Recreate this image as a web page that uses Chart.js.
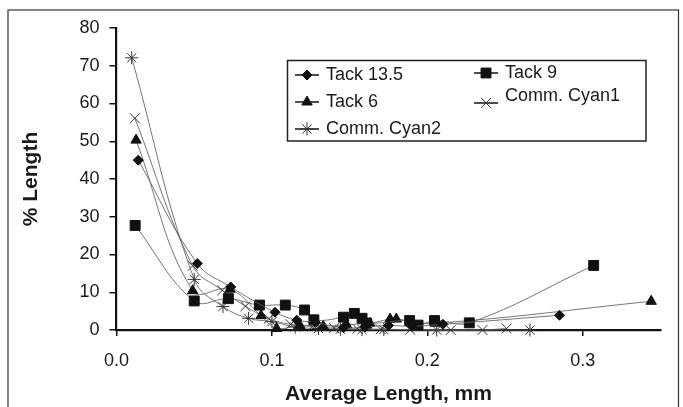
<!DOCTYPE html>
<html>
<head>
<meta charset="utf-8">
<script src="https://cdn.jsdelivr.net/npm/chart.js@4.4.0/dist/chart.umd.min.js"></script>
<style>
  html, body { margin: 0; padding: 0; background: #fff; }
  canvas { display: block; }
</style>
</head>
<body>
<canvas id="c" width="683" height="407"></canvas>
<script>
// Length distributions: average fibre length (mm) vs % length, per sample
const tack135X = [0.014, 0.052, 0.0735, 0.102, 0.116, 0.128, 0.146, 0.160, 0.175, 0.190, 0.210, 0.285];
const tack135Y = [45.0, 17.6, 11.4, 4.7, 2.6, 2.0, 0.6, 0.8, 1.2, 1.0, 1.5, 3.9];

const tack6X = [0.0126, 0.049, 0.073, 0.093, 0.103, 0.118, 0.133, 0.148, 0.163, 0.176, 0.180, 0.205, 0.344];
const tack6Y = [50.3, 10.4, 10.8, 3.8, 0.4, 1.2, 1.0, 1.4, 1.8, 2.9, 2.9, 1.8, 7.6];

const tack9X = [0.012, 0.050, 0.072, 0.092, 0.1086, 0.121, 0.127, 0.146, 0.153, 0.158, 0.161, 0.1886, 0.194, 0.2046, 0.227, 0.307];
const tack9Y = [27.7, 7.7, 8.3, 6.6, 6.6, 5.3, 2.7, 3.4, 4.4, 3.1, 1.8, 2.5, 1.3, 2.5, 1.9, 17.1];

const cyan1X = [0.0118, 0.049, 0.068, 0.083, 0.098, 0.112, 0.126, 0.140, 0.155, 0.170, 0.189, 0.215, 0.2355, 0.251];
const cyan1Y = [56.1, 17.0, 10.5, 6.3, 3.0, 1.5, 0.9, 0.5, 0.3, 0.2, 0.1, 0.0, 0.0, 0.4];

const cyan2X = [0.0098, 0.050, 0.0685, 0.085, 0.100, 0.115, 0.130, 0.144, 0.158, 0.172, 0.206, 0.266];
const cyan2Y = [72.1, 13.4, 6.2, 3.1, 2.2, 0.8, 0.4, 0.2, 0.1, 0.1, 0.0, 0.0];

const xTicks = [0.0, 0.1, 0.2, 0.3];
const yTicks = [0, 10, 20, 30, 40, 50, 60, 70, 80];

const FONT = "'Liberation Sans', Arial, sans-serif";
const LINE = 'rgba(95,95,95,0.95)';

function pts(xs, ys) { return xs.map((x, i) => ({ x: x, y: ys[i] })); }

const series = [
  { label: 'Tack 13.5',   xs: tack135X, ys: tack135Y, style: 'rectRot',  r: 5,   filled: true },
  { label: 'Tack 9',      xs: tack9X,   ys: tack9Y,   style: 'rect',     r: 7,   filled: true },
  { label: 'Tack 6',      xs: tack6X,   ys: tack6Y,   style: 'triangle', r: 6,   filled: true },
  { label: 'Comm. Cyan1', xs: cyan1X,   ys: cyan1Y,   style: 'crossRot', r: 7,   filled: false },
  { label: 'Comm. Cyan2', xs: cyan2X,   ys: cyan2Y,   style: 'star',     r: 6.5, filled: false }
];

const datasets = series.map(s => ({
  label: s.label,
  data: pts(s.xs, s.ys),
  borderColor: LINE,
  borderWidth: 0.9,
  tension: 0.4,
  fill: false,
  clip: false,
  pointStyle: s.style,
  pointRadius: s.r,
  pointBackgroundColor: '#111',
  pointBorderColor: s.filled ? '#111' : '#333',
  pointBorderWidth: s.filled ? 1 : 1
}));

// Outer frame and boxed two-column legend
const decorations = {
  id: 'decorations',
  afterDraw(chart) {
    const ctx = chart.ctx;
    ctx.save();
    ctx.strokeStyle = '#333';
    ctx.lineWidth = 1.2;
    ctx.strokeRect(8, 10, 670.5, 405);

    ctx.lineWidth = 1.5;
    ctx.strokeStyle = '#222';
    ctx.strokeRect(287.5, 60.5, 358.5, 80.5);

    const entries = [
      { s: series[0], lx: 295, ly: 75,  tx: 326, ty: 75 },
      { s: series[2], lx: 295, ly: 102, tx: 326, ty: 102 },
      { s: series[4], lx: 295, ly: 129, tx: 326, ty: 129 },
      { s: series[1], lx: 474, ly: 73,  tx: 505, ty: 73 },
      { s: series[3], lx: 474, ly: 103, tx: 505, ty: 96 }
    ];
    ctx.font = '18px ' + FONT;
    ctx.textBaseline = 'middle';
    ctx.textAlign = 'left';
    entries.forEach(e => {
      ctx.strokeStyle = '#222';
      ctx.lineWidth = 1.6;
      ctx.beginPath();
      ctx.moveTo(e.lx, e.ly);
      ctx.lineTo(e.lx + 24, e.ly);
      ctx.stroke();
      ctx.fillStyle = '#111';
      ctx.strokeStyle = e.s.filled ? '#111' : '#333';
      ctx.lineWidth = 1;
      Chart.helpers.drawPoint(ctx, {
        pointStyle: e.s.style, radius: e.s.r, rotation: 0, borderWidth: 1
      }, e.lx + 12, e.ly);
      ctx.fillStyle = '#1a1a1a';
      ctx.fillText(e.s.label, e.tx, e.ty);
    });
    ctx.restore();
  }
};

new Chart(document.getElementById('c'), {
  type: 'line',
  data: { datasets: datasets },
  plugins: [decorations],
  options: {
    responsive: false,
    animation: false,
    devicePixelRatio: 1,
    layout: { padding: { left: 0, right: 22.5, top: 28, bottom: 0 } },
    plugins: { legend: { display: false }, tooltip: { enabled: false } },
    scales: {
      x: {
        type: 'linear',
        min: 0,
        max: 0.35,
        afterFit(s) { s.height = 77; },
        afterBuildTicks(s) { s.ticks = xTicks.map(v => ({ value: v })); },
        ticks: {
          color: '#1a1a1a',
          font: { family: FONT, size: 18 },
          padding: 14,
          maxRotation: 0,
          callback: v => Number(v).toFixed(1)
        },
        grid: { display: true, drawOnChartArea: false, drawTicks: true, tickLength: 6, color: '#111', lineWidth: 1.5 },
        border: { display: true, color: '#111', width: 2.2 },
        title: {
          display: true,
          text: 'Average Length, mm',
          color: '#1a1a1a',
          font: { family: FONT, size: 21, weight: 'bold' },
          padding: { top: 0, bottom: 0 }
        }
      },
      y: {
        type: 'linear',
        min: 0,
        max: 80,
        afterFit(s) { s.width = 116.5; },
        afterBuildTicks(s) { s.ticks = yTicks.map(v => ({ value: v })); },
        ticks: {
          color: '#1a1a1a',
          font: { family: FONT, size: 18 },
          padding: 10
        },
        grid: { display: true, drawOnChartArea: false, drawTicks: true, tickLength: 7, color: '#111', lineWidth: 1.5 },
        border: { display: true, color: '#111', width: 2.2 },
        title: {
          display: true,
          text: '% Length',
          color: '#1a1a1a',
          font: { family: FONT, size: 21, weight: 'bold' },
          padding: { top: 19, bottom: 0 }
        }
      }
    }
  }
});
</script>
</body>
</html>
